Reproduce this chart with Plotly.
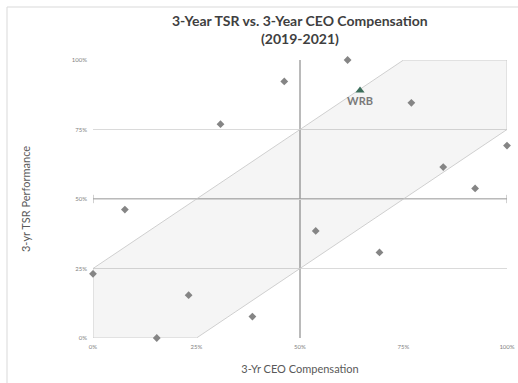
import plotly.graph_objects as go

# Peer data (percentile ranks)
peer_comp = [0.0, 0.077, 0.154, 0.231, 0.308, 0.385, 0.462, 0.538, 0.615, 0.692, 0.769, 0.846, 0.923, 1.0]
peer_tsr = [0.231, 0.462, 0.0, 0.154, 0.769, 0.077, 0.923, 0.385, 1.0, 0.308, 0.846, 0.615, 0.538, 0.692]

wrb_name = ["WRB"]
wrb_comp = [0.645]
wrb_tsr = [0.89]

# Alignment band polygon
band_x = [0, 0, 0.75, 1, 1, 0.25, 0]
band_y = [0, 0.25, 1, 1, 0.75, 0, 0]

tick_vals = [0, 0.25, 0.5, 0.75, 1.0]
tick_text = ["0%", "25%", "50%", "75%", "100%"]

title_lines = ["3-Year TSR vs. 3-Year CEO Compensation", "(2019-2021)"]

FONT = "Lato"
fig = go.Figure()

fig.add_trace(go.Scatter(
    x=band_x, y=band_y, mode="lines", fill="toself",
    fillcolor="rgba(0,0,0,0.04)", line=dict(color="#c4c4c4", width=0.8),
    hoverinfo="skip", showlegend=False))

fig.add_trace(go.Scatter(
    x=peer_comp, y=peer_tsr, mode="markers",
    marker=dict(symbol="diamond", size=6, color="#858585"),
    cliponaxis=False, showlegend=False))

fig.add_trace(go.Scatter(
    x=wrb_comp, y=wrb_tsr, mode="markers+text", text=wrb_name,
    textposition="bottom center",
    textfont=dict(family=FONT, size=11, color="#7a7a7a", weight="bold"),
    marker=dict(symbol="triangle-up", size=8, color="#3c6e5b"),
    cliponaxis=False, showlegend=False))

shapes = [
    # 50% cross lines
    dict(type="line", xref="x", yref="y", x0=0, x1=1, y0=0.5, y1=0.5,
         line=dict(color="#a3a3a3", width=1.5), layer="below"),
    dict(type="line", xref="x", yref="y", x0=0.5, x1=0.5, y0=0, y1=1,
         line=dict(color="#a3a3a3", width=1.5), layer="below"),
    dict(type="line", xref="x", yref="y", x0=0, x1=0, y0=0.485, y1=0.515,
         line=dict(color="#a3a3a3", width=1)),
    dict(type="line", xref="x", yref="y", x0=1, x1=1, y0=0.485, y1=0.515,
         line=dict(color="#a3a3a3", width=1)),
    # chart border
    dict(type="rect", xref="paper", yref="paper", x0=-0.2077, x1=1.2,
         y0=-0.3, y1=1.1906, line=dict(color="#d9d9d9", width=1),
         fillcolor="rgba(0,0,0,0)", layer="below"),
]

annotations = [
    dict(text="<b>%s</b>" % title_lines[0], xref="paper", yref="paper",
         x=0.5, y=1.0 + (60 - 20) / 278, xanchor="center", yanchor="middle",
         showarrow=False, font=dict(family=FONT, size=14, color="#3f3f3f")),
    dict(text="<b>%s</b>" % title_lines[1], xref="paper", yref="paper",
         x=0.5, y=1.0 + (60 - 38) / 278, xanchor="center", yanchor="middle",
         showarrow=False, font=dict(family=FONT, size=14, color="#3f3f3f")),
]

fig.update_layout(
    width=518, height=383,
    margin=dict(l=93, r=11, t=60, b=45, autoexpand=False),
    paper_bgcolor="white", plot_bgcolor="white",
    font=dict(family=FONT, color="#595959"),
    shapes=shapes, annotations=annotations,
    showlegend=False,
)

fig.update_xaxes(
    range=[0, 1], tickvals=tick_vals, ticktext=tick_text,
    showgrid=False, zeroline=False, showline=False, ticks="",
    automargin=False, ticklabelstandoff=4,
    tickfont=dict(size=6, color="#7f7f7f"),
    title=dict(text="3-Yr CEO Compensation", font=dict(size=11, color="#595959"), standoff=16),
)
fig.update_yaxes(
    range=[0, 1], tickvals=tick_vals, ticktext=tick_text,
    showgrid=True, gridcolor="#dadada", gridwidth=1,
    zeroline=False, showline=False, ticks="",
    automargin=False, ticklabelstandoff=5,
    tickfont=dict(size=6, color="#7f7f7f"),
    title=dict(text="3-yr TSR Performance", font=dict(size=11, color="#595959"), standoff=38),
)

fig.write_html("out.html")
